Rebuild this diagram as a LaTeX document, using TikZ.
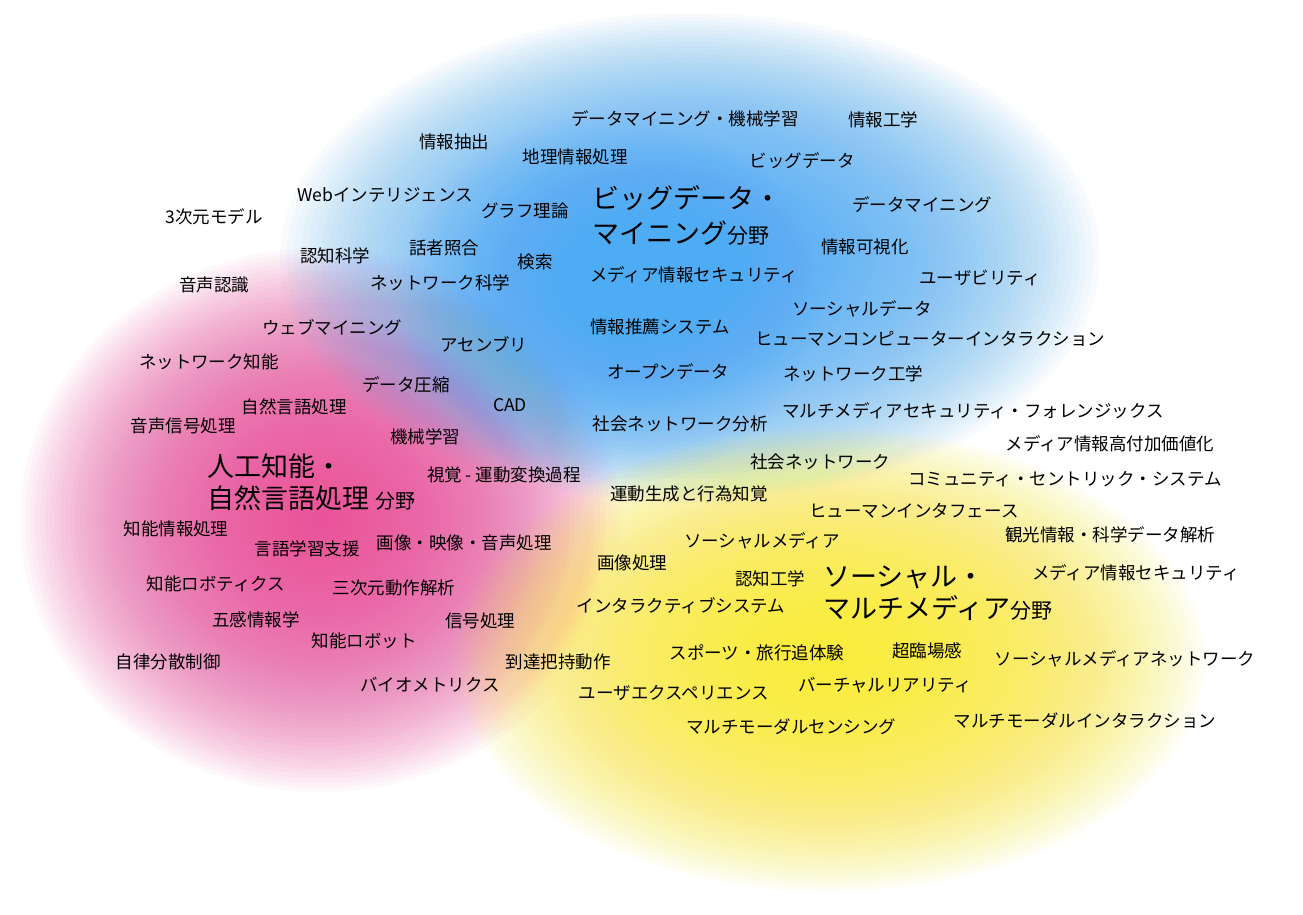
\documentclass[tikz,border=0pt]{standalone}
\usepackage{fontspec}
\setmainfont{Noto Sans CJK JP}
\definecolor{bpink}{RGB}{234,78,156}
\definecolor{bblue}{RGB}{78,172,244}
\definecolor{byellow}{RGB}{250,236,50}
\begin{document}
\begin{tikzpicture}[x=0.5pt,y=-0.5pt,
  lab/.style={inner sep=0pt, font=\fontsize{8.75}{10}\selectfont},
  bigfield/.style={inner sep=0pt, align=left, anchor=west},
  glow/.style={fill opacity=0.038}]
\useasboundingbox (0,0) rectangle (1303,915);
\fill[white] (0,0) rectangle (1303,915);
% background blobs: stacked translucent ellipses, soft linear profile
\foreach \i in {0,...,59} {
  \pgfmathsetmacro{\k}{1-\i/60}
  \fill[bpink, glow] (320,520) ellipse ({300*\k} and {272*\k});
}
\foreach \i in {0,...,59} {
  \pgfmathsetmacro{\k}{1-\i/60}
  \fill[bblue, glow] (690,258) ellipse ({410*\k} and {245*\k});
}
\foreach \i in {0,...,29} {
  \pgfmathsetmacro{\k}{1-\i/30}
  \fill[bblue, glow] (610,300) ellipse ({210*\k} and {185*\k});
}
\foreach \i in {0,...,59} {
  \pgfmathsetmacro{\k}{1-\i/60}
  \fill[byellow, glow] (830,660) ellipse ({375*\k} and {232*\k});
}
% big field titles
\node[bigfield, font=\fontsize{13.5}{17.5}\selectfont] (f1) at (592,215) {ビッグデータ・\\マイニング{\fontsize{10.5}{17.5}\selectfont 分野}};
\node[bigfield, font=\fontsize{13.5}{16}\selectfont] (f2) at (207,482) {人工知能・\\自然言語処理 {\fontsize{10}{16}\selectfont 分野}};
\node[bigfield, font=\fontsize{13.5}{16}\selectfont] (f3) at (823,593) {ソーシャル・\\マルチメディア{\fontsize{10.5}{16}\selectfont 分野}};
% keywords
\node[lab] (t1) at (685,119) {データマイニング・機械学習};
\node[lab] (t2) at (883,120) {情報工学};
\node[lab] (t3) at (454,142) {情報抽出};
\node[lab] (t4) at (575,157) {地理情報処理};
\node[lab] (t5) at (802,161) {ビッグデータ};
\node[lab] (t6) at (385,195) {Webインテリジェンス};
\node[lab] (t7) at (525,211) {グラフ理論};
\node[lab] (t8) at (214,217) {3次元モデル};
\node[lab] (t9) at (922,205) {データマイニング};
\node[lab] (t10) at (865,247) {情報可視化};
\node[lab] (t11) at (335,256) {認知科学};
\node[lab] (t12) at (444,248) {話者照合};
\node[lab] (t13) at (535,262) {検索};
\node[lab] (t14) at (694,275) {メディア情報セキュリティ};
\node[lab] (t15) at (980,278) {ユーザビリティ};
\node[lab] (t16) at (214,285) {音声認識};
\node[lab] (t17) at (440,283) {ネットワーク科学};
\node[lab] (t18) at (862,309) {ソーシャルデータ};
\node[lab] (t19) at (332,328) {ウェブマイニング};
\node[lab] (t20) at (660,327) {情報推薦システム};
\node[lab] (t21) at (930,339) {ヒューマンコンピューターインタラクション};
\node[lab] (t22) at (484,344) {アセンブリ};
\node[lab] (t23) at (209,362) {ネットワーク知能};
\node[lab] (t24) at (668,372) {オープンデータ};
\node[lab] (t25) at (853,374) {ネットワーク工学};
\node[lab] (t26) at (406,385) {データ圧縮};
\node[lab] (t27) at (294,407) {自然言語処理};
\node[lab] (t28) at (510,405) {CAD};
\node[lab] (t29) at (973,411) {マルチメディアセキュリティ・フォレンジックス};
\node[lab] (t30) at (183,426) {音声信号処理};
\node[lab] (t31) at (680,424) {社会ネットワーク分析};
\node[lab] (t32) at (425,437) {機械学習};
\node[lab] (t33) at (1110,444) {メディア情報高付加価値化};
\node[lab] (t34) at (504,475) {視覚 - 運動変換過程};
\node[lab] (t35) at (820,462) {社会ネットワーク};
\node[lab] (t36) at (1065,479) {コミュニティ・セントリック・システム};
\node[lab] (t37) at (689,494) {運動生成と行為知覚};
\node[lab] (t38) at (914,511) {ヒューマンインタフェース};
\node[lab] (t39) at (176,529) {知能情報処理};
\node[lab] (t40) at (1110,535) {観光情報・科学データ解析};
\node[lab] (t41) at (762,541) {ソーシャルメディア};
\node[lab] (t42) at (307,549) {言語学習支援};
\node[lab] (t43) at (464,543) {画像・映像・音声処理};
\node[lab] (t44) at (632,563) {画像処理};
\node[lab] (t45) at (770,579) {認知工学};
\node[lab] (t46) at (1136,573) {メディア情報セキュリティ};
\node[lab] (t47) at (216,584) {知能ロボティクス};
\node[lab] (t48) at (394,588) {三次元動作解析};
\node[lab] (t49) at (681,606) {インタラクティブシステム};
\node[lab] (t50) at (256,620) {五感情報学};
\node[lab] (t51) at (480,621) {信号処理};
\node[lab] (t52) at (364,641) {知能ロボット};
\node[lab] (t53) at (757,653) {スポーツ・旅行追体験};
\node[lab] (t54) at (927,651) {超臨場感};
\node[lab] (t55) at (1125,659) {ソーシャルメディアネットワーク};
\node[lab] (t56) at (168,662) {自律分散制御};
\node[lab] (t57) at (558,662) {到達把持動作};
\node[lab] (t58) at (430,685) {バイオメトリクス};
\node[lab] (t59) at (885,685) {バーチャルリアリティ};
\node[lab] (t60) at (674,693) {ユーザエクスペリエンス};
\node[lab] (t61) at (791,727) {マルチモーダルセンシング};
\node[lab] (t62) at (1085,721) {マルチモーダルインタラクション};
\end{tikzpicture}
\end{document}
